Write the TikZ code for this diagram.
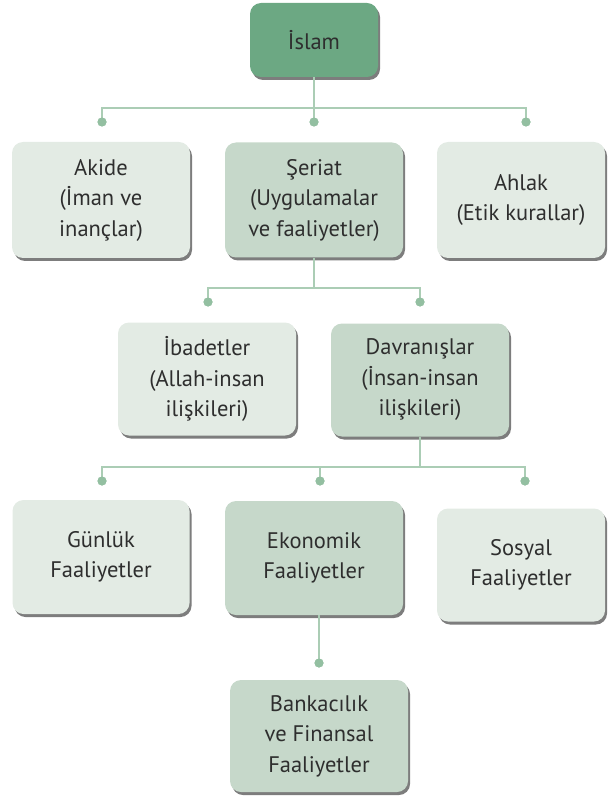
\documentclass[tikz,border=0pt]{standalone}
\usepackage{fontspec}
\setmainfont{PT Sans}
\usetikzlibrary{shadows}
\definecolor{topgreen}{HTML}{6CA883}
\definecolor{midgreen}{HTML}{C6D8CA}
\definecolor{lightgreen}{HTML}{E3EBE4}
\definecolor{linkgreen}{HTML}{ABCDB5}
\definecolor{dotgreen}{HTML}{93BFA1}
\definecolor{txt}{HTML}{2E2E2E}
\begin{document}
\begin{tikzpicture}[x=1pt,y=-1pt,
  box/.style={rounded corners=11pt, align=center, text=txt,
    font=\fontsize{22.5}{30.5}\selectfont, inner sep=0pt,
    drop shadow={shadow xshift=2pt, shadow yshift=-3pt, fill=black!60, opacity=0.85}},
  topbox/.style={box, fill=topgreen, minimum width=128pt, minimum height=74pt},
  midbox/.style={box, fill=midgreen, minimum width=178pt, minimum height=114pt},
  lightbox/.style={box, fill=lightgreen, minimum width=178pt, minimum height=114pt},
  link/.style={draw=linkgreen, line width=2pt},
  dot/.style={circle, fill=dotgreen, inner sep=0pt, minimum size=9pt}]
\useasboundingbox (0,0) rectangle (609,799);

% boxes
\node[topbox] (islam) at (314,40) {İslam};
\node[lightbox, minimum height=116pt] (akide) at (101,200) {Akide\\(İman ve\\inançlar)};
\node[midbox, minimum height=115pt] (seriat) at (314,200) {Şeriat\\(Uygulamalar\\ve faaliyetler)};
\node[lightbox, minimum width=168pt, minimum height=116pt] (ahlak) at (521,200) {Ahlak\\(Etik kurallar)};
\node[lightbox, minimum height=113pt] (ibadet) at (207,379) {İbadetler\\(Allah-insan\\ilişkileri)};
\node[midbox, minimum height=113pt] (davran) at (420,380) {Davranışlar\\(İnsan-insan\\ilişkileri)};
\node[lightbox, minimum width=177pt] (gunluk) at (101,557) {Günlük\\Faaliyetler};
\node[midbox] (ekonomik) at (314,558) {Ekonomik\\Faaliyetler};
\node[lightbox, minimum width=168pt, minimum height=113pt] (sosyal) at (521,565) {Sosyal\\Faaliyetler};
\node[midbox, minimum height=112pt] (banka) at (319,736) {Bankacılık\\ve Finansal\\Faaliyetler};

% junctions and end dots
\coordinate (j1) at (314,108);
\coordinate (j2) at (314,288);
\coordinate (j3) at (420,467);
\coordinate (j4) at (319,615);
\node[dot] (d1a) at (102,122) {};
\node[dot] (d1b) at (314,122) {};
\node[dot] (d1c) at (526,122) {};
\node[dot] (d2a) at (208,302) {};
\node[dot] (d2b) at (420,302) {};
\node[dot] (d3a) at (102,481) {};
\node[dot] (d3b) at (320,481) {};
\node[dot] (d3c) at (525,481) {};
\node[dot] (d4) at (319,663) {};

% connectors
\draw[link] (islam.south) -- (j1);
\draw[link] (d1a.center) |- (j1) -| (d1c.center);
\draw[link] (j1) -- (d1b.center);
\draw[link] (seriat.south) -- (j2);
\draw[link] (d2a.center) |- (j2) -| (d2b.center);
\draw[link] (davran.south) -- (j3);
\draw[link] (d3a.center) |- (j3) -| (d3c.center);
\draw[link] (d3b.center) -- (d3b.center |- j3);
\draw[link] (j4) -- (d4.center);
% dots on top of the lines
\foreach \d in {d1a,d1b,d1c,d2a,d2b,d3a,d3b,d3c,d4}
  \fill[dotgreen] (\d) circle (4.5pt);
\end{tikzpicture}
\end{document}
